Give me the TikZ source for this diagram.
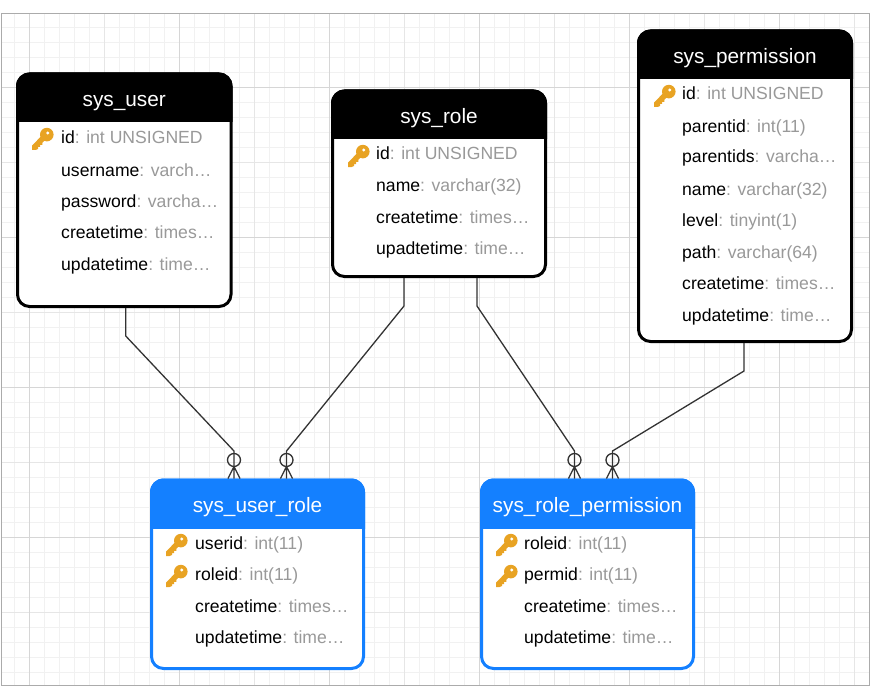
\documentclass[tikz,border=0pt]{standalone}
\usepackage{fontspec}
\setmainfont{Liberation Sans}
\usetikzlibrary{calc}
\definecolor{minorgrid}{HTML}{F1F1F1}
\definecolor{midgrid}{HTML}{E6E6E6}
\definecolor{majorgrid}{HTML}{D6D6D6}
\definecolor{framegray}{HTML}{ABABAB}
\definecolor{bluehdr}{HTML}{1480FF}
\definecolor{typegray}{HTML}{999999}
\definecolor{keygold}{HTML}{E8A323}
\definecolor{conncol}{HTML}{333333}
\tikzset{
  x=1pt,y=-1pt,
  tablebox/.style={draw=#1,line width=3pt,fill=white,rounded corners=12pt,inner sep=0pt,outer sep=0pt},
  titletext/.style={text=white,font=\fontsize{20.8pt}{23pt}\selectfont,anchor=base,inner sep=0pt},
  rowtext/.style={anchor=base west,inner sep=0pt,font=\fontsize{17.6pt}{20pt}\selectfont},
  conn/.style={draw=conncol,line width=1.3pt,line join=miter},
  ring/.style={circle,draw=conncol,line width=1.3pt,minimum size=13pt,inner sep=0pt,outer sep=0pt},
  crow/.style={draw=conncol,line width=1.3pt},
}
% name, x0,y0,x1,y1, header bottom, colour, title
\newcommand{\tbl}[8]{%
  \node[tablebox=#7,minimum width={#4-#2},minimum height={#5-#3}] (#1) at ({(#2+#4)/2},{(#3+#5)/2}) {};
  \begin{scope}
    \clip (#2-3,#3-3) rectangle (#4+3,#6);
    \fill[#7,rounded corners=13.5pt] (#2-1.5,#3-1.5) rectangle (#4+1.5,#5+1.5);
  \end{scope}
  \node[titletext] (#1title) at ({(#2+#4)/2},{#3+32.5}) {#8};
}
\newcommand{\rowt}[5]{\node[rowtext] (#1) at (#2,#3+6) {#4\textcolor{typegray}{: #5}};}
\newcommand{\keyicon}[2]{%
  \begin{scope}[shift={(#1,#2)}]
    \fill[keygold] (-10,7.6) -- (0.2,-2.8) -- (4,1) -- (0.4,4.6) -- (0.4,6.8) -- (-1.8,6.8) -- (-1.8,9) -- (-4,9) -- (-4,11) -- (-6.5,12) -- (-10,12) -- cycle;
    \fill[keygold,even odd rule] (4.8,-3.4) circle[radius=6.8] (5.8,-5) circle[radius=1.9];
  \end{scope}}
\begin{document}
\begin{tikzpicture}
\useasboundingbox (0,0) rectangle (870,698);
\fill[white] (0,0) rectangle (870,698);
\begin{scope}
\clip (1.5,13.5) rectangle (869,685.3);
\foreach \i in {0,...,57} {\draw[minorgrid,line width=1pt] ({14.7+15*\i},13) -- ({14.7+15*\i},686);}
\foreach \j in {0,...,44} {\draw[minorgrid,line width=1pt] (1,{27.3+15*\j}) -- (870,{27.3+15*\j});}
\foreach \i in {0,...,11} {\draw[midgrid,line width=1pt] ({29.7+75*\i},13) -- ({29.7+75*\i},686);}
\foreach \j in {0,...,8} {\draw[midgrid,line width=1pt] (1,{12.3+75*\j}) -- (870,{12.3+75*\j});}
\foreach \i in {0,...,5} {\draw[majorgrid,line width=1pt] ({29.7+150*\i},13) -- ({29.7+150*\i},686);}
\foreach \j in {1,...,4} {\draw[majorgrid,line width=1pt] (1,{-62.7+150*\j+0}) -- (870,{-62.7+150*\j});}
\end{scope}
\draw[framegray,line width=1pt] (1.5,13.5) rectangle (869,685.3);

\tbl{user}{17.5}{74}{231}{306.5}{122}{black}{sys\_user}
\keyicon{42}{138}
\rowt{u1}{61}{138}{id}{int UNSIGNED}
\rowt{u2}{61}{170}{username}{varch…}
\rowt{u3}{61}{201}{password}{varcha…}
\rowt{u4}{61}{232}{createtime}{times…}
\rowt{u5}{61}{264}{updatetime}{time…}

\tbl{role}{332.5}{91}{545.5}{276.5}{139}{black}{sys\_role}
\keyicon{358}{155}
\rowt{r1}{376}{154}{id}{int UNSIGNED}
\rowt{r2}{376}{185}{name}{varchar(32)}
\rowt{r3}{376}{217}{createtime}{times…}
\rowt{r4}{376}{248}{upadtetime}{time…}

\tbl{perm}{638.5}{31}{851.5}{341.5}{79}{black}{sys\_permission}
\keyicon{664}{95}
\rowt{p1}{682}{94}{id}{int UNSIGNED}
\rowt{p2}{682}{126}{parentid}{int(11)}
\rowt{p3}{682}{157}{parentids}{varcha…}
\rowt{p4}{682}{189}{name}{varchar(32)}
\rowt{p5}{682}{220}{level}{tinyint(1)}
\rowt{p6}{682}{252}{path}{varchar(64)}
\rowt{p7}{682}{283}{createtime}{times…}
\rowt{p8}{682}{315}{updatetime}{time…}

\tbl{ur}{151.5}{480}{363.5}{668.5}{528}{bluehdr}{sys\_user\_role}
\keyicon{176}{544}
\keyicon{176}{575}
\rowt{ur1}{195}{543}{userid}{int(11)}
\rowt{ur2}{195}{574}{roleid}{int(11)}
\rowt{ur3}{195}{606}{createtime}{times…}
\rowt{ur4}{195}{637}{updatetime}{time…}

\tbl{rp}{481.5}{480}{693.5}{668.5}{528}{bluehdr}{sys\_role\_permission}
\keyicon{506}{544}
\keyicon{506}{575}
\rowt{rp1}{524}{543}{roleid}{int(11)}
\rowt{rp2}{524}{574}{permid}{int(11)}
\rowt{rp3}{524}{606}{createtime}{times…}
\rowt{rp4}{524}{637}{updatetime}{time…}

\node[ring] (c1) at (234,460) {};
\node[ring] (c2) at (286.5,460) {};
\node[ring] (c3) at (574.5,460) {};
\node[ring] (c4) at (612.5,460) {};

\draw[conn] ($(user.south)+(1.5,1.5)$) -- ++(0,28) -- ($(c1.north)+(0,-2.5)$) -- (c1.south);
\draw[conn] ($(role.south)+(-35,1.5)$) -- ++(0,28) -- ($(c2.north)+(0,-2.5)$) -- (c2.south);
\draw[conn] ($(role.south)+(38,1.5)$) -- ++(0,28) -- ($(c3.north)+(0,-2.5)$) -- (c3.south);
\draw[conn] ($(perm.south)+(-1,1.5)$) -- ++(0,28) -- ($(c4.north)+(0,-2.5)$) -- (c4.south);
\draw[crow] (c1.south) -- ++(-6,12) (c1.south) -- ++(6,12) (c1.south) -- ++(0,12);
\draw[crow] (c2.south) -- ++(-6,12) (c2.south) -- ++(6,12) (c2.south) -- ++(0,12);
\draw[crow] (c3.south) -- ++(-6,12) (c3.south) -- ++(6,12) (c3.south) -- ++(0,12);
\draw[crow] (c4.south) -- ++(-6,12) (c4.south) -- ++(6,12) (c4.south) -- ++(0,12);
\end{tikzpicture}
\end{document}
